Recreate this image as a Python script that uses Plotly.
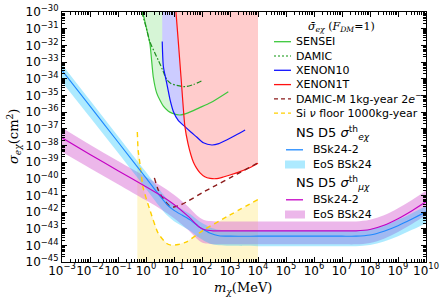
import numpy as np
import plotly.graph_objects as go

# ---------------- data (log10 of m [MeV] and log10 of sigma [cm^2]) ----------------
sensei_logm = [-0.12, 0.02, 0.14, 0.26, 0.38, 0.5, 0.62, 0.8, 0.95, 1.2, 1.5, 1.9, 2.3, 2.94]
sensei_logs = [-30.0, -31.0, -31.9, -33.9, -34.85, -35.3, -35.65, -35.95, -36.08, -36.18, -36.05, -35.75, -35.45, -34.78]

damic_logm = [-0.15, 0.0, 0.14, 0.3, 0.44, 0.6, 0.74, 0.9, 1.1, 1.3, 1.45, 1.7, 1.99]
damic_logs = [-30.0, -30.9, -31.8, -32.4, -32.9, -33.5, -34.05, -34.3, -34.4, -34.47, -34.47, -34.35, -34.13]

xenon10_logm = [0.58, 0.62, 0.74, 0.86, 0.98, 1.15, 1.39, 1.6, 1.81, 2.05, 2.35, 2.6, 2.88, 3.2, 3.54]
xenon10_logs = [-31.77, -33.27, -34.27, -35.27, -35.98, -36.5, -36.88, -37.2, -37.5, -37.85, -37.98, -37.9, -37.68, -37.4, -37.08]

xenon1t_logm = [1.07, 1.15, 1.25, 1.39, 1.5, 1.6, 1.69, 1.8, 1.93, 2.1, 2.29, 2.5, 2.76, 3.0, 3.36, 3.7, 4.0]
xenon1t_logs = [-30.0, -31.7, -33.9, -36.88, -37.9, -38.55, -39.0, -39.35, -39.65, -39.88, -39.98, -40.0, -39.9, -39.78, -39.58, -39.35, -39.08]

damicm_logm = [0.3, 0.42, 0.55, 0.7, 0.85, 1.0, 1.2, 1.5, 2.0, 2.5, 3.0, 3.5, 4.0]
damicm_logs = [-39.95, -40.6, -41.05, -41.4, -41.65, -41.7, -41.6, -41.35, -40.85, -40.4, -39.95, -39.5, -39.05]

nufloor_logm = [-0.31, -0.28, -0.21, -0.1, 0.14, 0.44, 0.74, 0.9, 1.15, 1.45, 2.05, 2.88, 4.0]
nufloor_logs = [-37.2, -38.3, -39.18, -40.56, -41.88, -43.29, -43.89, -43.99, -43.95, -43.79, -43.09, -42.29, -41.25]

# NS D5 sigma_e chi (BSk24-2 line and EoS BSk24 band)
e_logm = [-3, -2, -1, 0, 0.5, 0.75, 1.0, 1.3, 1.6, 1.9, 2.1, 2.3, 2.6, 3, 4, 5, 6, 7, 7.5, 8, 8.5, 9, 9.5, 10]
e_line = [-33.5, -35.65, -37.8, -39.95, -41.05, -41.55, -41.9, -42.2, -42.5, -42.9, -43.1, -43.28, -43.42, -43.45,
          -43.45, -43.45, -43.45, -43.45, -43.45, -43.38, -43.15, -42.82, -42.42, -41.99]
e_upper = [-33.15, -35.3, -37.45, -39.6, -40.7, -41.2, -41.55, -41.85, -42.15, -42.55, -42.75, -42.93, -43.07, -43.1,
           -43.1, -43.1, -43.1, -43.1, -43.1, -43.03, -42.8, -42.47, -42.07, -41.64]
e_lower = [-34.2, -36.32, -38.45, -40.6, -41.7, -42.2, -42.55, -42.85, -43.15, -43.55, -43.75, -43.9, -44.0, -44.03,
           -44.05, -44.05, -44.05, -44.05, -44.05, -43.98, -43.77, -43.45, -43.07, -42.67]

# NS D5 sigma_mu chi
mu_logm = [-3, -2, -1, 0, 0.5, 1, 1.5, 1.9, 2.1, 2.4, 3, 4, 5, 6, 7, 7.5, 8, 8.5, 9, 9.5, 10]
mu_line = [-37.55, -38.55, -39.52, -40.48, -40.98, -41.55, -42.25, -42.9, -43.07, -43.13, -43.13, -43.13, -43.13,
           -43.13, -43.13, -43.13, -43.05, -42.8, -42.4, -41.92, -41.39]
mu_upper = [-36.95, -37.97, -38.94, -39.9, -40.4, -40.97, -41.67, -42.32, -42.5, -42.56, -42.57, -42.57, -42.57,
            -42.57, -42.57, -42.57, -42.47, -42.2, -41.78, -41.28, -40.73]
mu_lower = [-38.4, -39.37, -40.33, -41.3, -41.8, -42.37, -43.07, -43.72, -43.88, -43.93, -43.94, -43.94, -43.94,
            -43.94, -43.94, -43.94, -43.86, -43.6, -43.2, -42.72, -42.2]

x_tick_exp = list(range(-3, 11))
y_tick_exp = list(range(-45, -29))
x_tick_labels = ["10<sup>%s</sup>" % (("−%d" % -e) if e < 0 else str(e)) for e in x_tick_exp]
y_tick_labels = ["10<sup>−%d</sup>" % -e for e in y_tick_exp]
x_range = [-3, 10]
y_range = [-45, -30]

# ---------------- figure ----------------
W, H = 446, 305
L, R, T, B = 62, 20, 12, 43
PW, PH = W - L - R, H - T - B


def p10(a):
    return 10 ** np.asarray(a, dtype=float)


def fill_above(lx, ly, top):
    xs = list(lx) + [lx[-1], lx[0]]
    ys = list(ly) + [top, top]
    return p10(xs), p10(ys)


def fill_below(lx, ly, bot):
    xs = list(lx) + [lx[-1], lx[0]]
    ys = list(ly) + [bot, bot]
    return p10(xs), p10(ys)


fig = go.Figure()

# exclusion regions (opaque, drawn in order)
for (lx, ly, col) in [(sensei_logm, sensei_logs, "#d6f5d6"),
                      (xenon10_logm, xenon10_logs, "#ccccff"),
                      (xenon1t_logm, xenon1t_logs, "#ffcccc")]:
    fx, fy = fill_above(lx, ly, y_range[1])
    fig.add_trace(go.Scatter(x=fx, y=fy, mode="lines", fill="toself", fillcolor=col,
                             line=dict(width=0, color=col), hoverinfo="skip", showlegend=False))

fx, fy = fill_below(nufloor_logm, nufloor_logs, y_range[0])
fig.add_trace(go.Scatter(x=fx, y=fy, mode="lines", fill="toself", fillcolor="#fff6cc",
                         line=dict(width=0, color="#fff6cc"), hoverinfo="skip", showlegend=False))

# NS bands
for (lx, lo, up, col) in [(mu_logm, mu_lower, mu_upper, "rgba(218,112,214,0.5)"),
                          (e_logm, e_lower, e_upper, "rgba(0,191,255,0.32)")]:
    fig.add_trace(go.Scatter(x=p10(lx), y=p10(lo), mode="lines", line=dict(width=0, shape="spline"),
                             hoverinfo="skip", showlegend=False))
    fig.add_trace(go.Scatter(x=p10(lx), y=p10(up), mode="lines", line=dict(width=0, shape="spline"),
                             fill="tonexty", fillcolor=col, hoverinfo="skip", showlegend=False))

# lines
lines = [
    (sensei_logm, sensei_logs, "#3cc83c", "solid", 1.2),
    (damic_logm, damic_logs, "#1f8f1f", "5px,2px,1.5px,2px", 1.2),
    (xenon10_logm, xenon10_logs, "#1010ff", "solid", 1.2),
    (xenon1t_logm, xenon1t_logs, "#ff1010", "solid", 1.2),
    (damicm_logm, damicm_logs, "#8b1a1a", "5px,4px", 1.4),
    (nufloor_logm, nufloor_logs, "#ffd000", "5px,4px", 1.4),
    (e_logm, e_line, "#1e88ff", "solid", 1.1),
    (mu_logm, mu_line, "#c400c4", "solid", 1.1),
]
for lx, ly, col, dash, w in lines:
    fig.add_trace(go.Scatter(x=p10(lx), y=p10(ly), mode="lines",
                             line=dict(color=col, dash=dash, width=w, shape="spline", smoothing=0.6),
                             hoverinfo="skip", showlegend=False))

minor_x = [k * 10.0 ** d for d in range(x_range[0], x_range[1]) for k in range(2, 10)]
minor_y = [k * 10.0 ** d for d in range(y_range[0], y_range[1]) for k in range(2, 10)]

axis_common = dict(type="log", showgrid=False, zeroline=False, showline=True, linecolor="black",
                   linewidth=1.2, mirror="allticks", ticks="inside", ticklen=5, tickwidth=1,
                   tickcolor="black", tickangle=0,
                   tickfont=dict(family="DejaVu Sans", size=12, color="black"))

fig.update_xaxes(**axis_common, range=x_range, tickmode="array", tickvals=list(p10(x_tick_exp)),
                 ticktext=x_tick_labels, ticklabelstandoff=-3,
                 minor=dict(tickmode="array", tickvals=minor_x, ticks="inside", ticklen=2.5,
                            tickcolor="black", tickwidth=0.8, showgrid=False))
fig.update_yaxes(**axis_common, range=y_range, tickmode="array", tickvals=list(p10(y_tick_exp)),
                 ticktext=y_tick_labels,
                 minor=dict(tickmode="array", tickvals=minor_y, ticks="inside", ticklen=2.5,
                            tickcolor="black", tickwidth=0.8, showgrid=False))


# ---------------- manual legend & axis titles ----------------
def xp(v):
    return (v - L) / PW


def yp(v):
    return (H - B - v) / PH


shapes = []
annots = []
LEG_FONT = dict(family="DejaVu Sans", size=11, color="black")

annots.append(dict(x=xp(243), y=yp(288), xref="paper", yref="paper", showarrow=False,
                   xanchor="center", yanchor="middle", text="<i>m</i><sub><i>χ</i></sub>(MeV)",
                   font=dict(family="DejaVu Serif", size=13, color="black")))
annots.append(dict(x=xp(14), y=yp(137), xref="paper", yref="paper", showarrow=False, textangle=-90,
                   xanchor="center", yanchor="middle", text="<i>σ</i><sub><i>eχ</i></sub>(cm<sup>2</sup>)",
                   font=dict(family="DejaVu Serif", size=13, color="black")))

annots.append(dict(x=xp(341), y=yp(26.5), xref="paper", yref="paper", showarrow=False,
                   xanchor="center", yanchor="middle",
                   text="<i>σ̄</i><sub><i>eχ</i></sub> (<i>F</i><sub><i>DM</i></sub>=1)",
                   font=dict(family="DejaVu Serif", size=11, color="black")))

leg1 = [("SENSEI", "#3cc83c", "solid"),
        ("DAMIC", "#5cb85c", "dot"),
        ("XENON10", "#1010ff", "solid"),
        ("XENON1T", "#ff1010", "solid"),
        ("DAMIC-M 1kg-year 2<i>e</i><sup>−</sup>", "#8b1a1a", "dash"),
        ("Si <i>ν</i> floor 1000kg-year", "#ffd000", "dash")]
for i, (txt, col, dash) in enumerate(leg1):
    yy = 41.7 + 14.3 * i
    shapes.append(dict(type="line", xref="paper", yref="paper", x0=xp(274), x1=xp(291),
                       y0=yp(yy), y1=yp(yy), line=dict(color=col, width=1.3,
                       dash="4px,3px" if dash == "dash" else ("2px,2px" if dash == "dot" else "solid"))))
    annots.append(dict(x=xp(294), y=yp(yy), xref="paper", yref="paper", showarrow=False,
                       xanchor="left", yanchor="middle", text=txt, font=LEG_FONT))

groups = [("NS D5 <i>σ</i><sup>th</sup><sub><i>eχ</i></sub>", 133, "#1e88ff", "rgba(0,191,255,0.32)"),
          ("NS D5 <i>σ</i><sup>th</sup><sub><i>μχ</i></sub>", 183, "#c400c4", "rgba(218,112,214,0.5)")]
for head, y0, lc, bc in groups:
    annots.append(dict(x=xp(294), y=yp(y0), xref="paper", yref="paper", showarrow=False,
                       xanchor="left", yanchor="middle", text=head,
                       font=dict(family="DejaVu Sans", size=13, color="black")))
    yl = y0 + 16.8
    shapes.append(dict(type="line", xref="paper", yref="paper", x0=xp(286), x1=xp(303),
                       y0=yp(yl), y1=yp(yl), line=dict(color=lc, width=1.3)))
    annots.append(dict(x=xp(311), y=yp(yl), xref="paper", yref="paper", showarrow=False,
                       xanchor="left", yanchor="middle", text="BSk24-2", font=LEG_FONT))
    yb = y0 + 31.5
    shapes.append(dict(type="rect", xref="paper", yref="paper", x0=xp(285), x1=xp(305),
                       y0=yp(yb - 4), y1=yp(yb + 4), fillcolor=bc, line=dict(width=0)))
    annots.append(dict(x=xp(311), y=yp(yb), xref="paper", yref="paper", showarrow=False,
                       xanchor="left", yanchor="middle", text="EoS BSk24", font=LEG_FONT))

fig.update_layout(width=W, height=H, margin=dict(l=L, r=R, t=T, b=B, autoexpand=False),
                  plot_bgcolor="white", paper_bgcolor="white", showlegend=False,
                  shapes=shapes, annotations=annots)

fig.write_html("out.html", config={"displayModeBar": False},
               post_script="document.body.style.margin='0px';document.body.style.overflow='hidden';")
